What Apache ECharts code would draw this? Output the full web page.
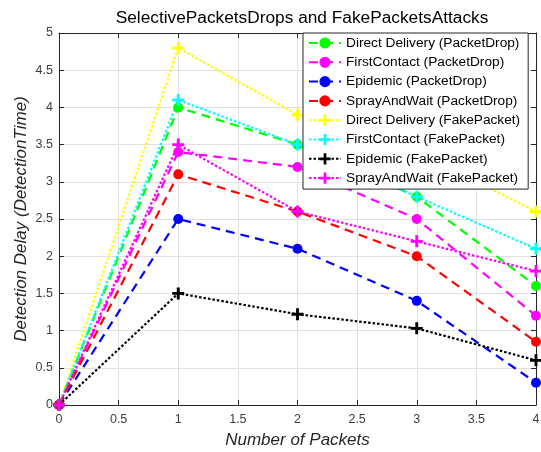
<!DOCTYPE html>
<html>
<head>
<meta charset="utf-8">
<script src="https://cdn.jsdelivr.net/npm/echarts@6/dist/echarts.min.js"></script>
<style>
  html, body { margin: 0; padding: 0; background: #fff; }
  #chart { width: 541px; height: 452px; }
</style>
</head>
<body>
<div id="chart"></div>
<script>
// Number of packets on the x axis
const packets = [0, 1, 2, 3, 4];

// Detection delay under selective packet drops
const directDeliveryDrop = [0, 4.0, 3.5, 2.8, 1.6];
const firstContactDrop   = [0, 3.4, 3.2, 2.5, 1.2];
const epidemicDrop       = [0, 2.5, 2.1, 1.4, 0.3];
const sprayAndWaitDrop   = [0, 3.1, 2.6, 2.0, 0.85];

// Detection delay under fake packet attacks
const directDeliveryFake = [0, 4.8, 3.9, 3.4, 2.6];
const firstContactFake   = [0, 4.1, 3.5, 2.8, 2.1];
const epidemicFake       = [0, 1.5, 1.22, 1.03, 0.6];
const sprayAndWaitFake   = [0, 3.5, 2.6, 2.2, 1.8];

const xTicks = [0, 0.5, 1, 1.5, 2, 2.5, 3, 3.5, 4];
const yTicks = [0, 0.5, 1, 1.5, 2, 2.5, 3, 3.5, 4, 4.5, 5];

const FONT = '"Liberation Sans", Arial, sans-serif';
const PLUS = 'path://M3.8,0H6.2V3.8H10V6.2H6.2V10H3.8V6.2H0V3.8H3.8Z';

function pts(vals) { return packets.map((x, i) => [x, vals[i]]); }

function makeSeries(name, vals, color, kind) {
  const dashed = kind === 'drop';
  return {
    name: name,
    type: 'line',
    data: pts(vals),
    symbol: dashed ? 'circle' : PLUS,
    symbolSize: dashed ? 10 : 12,
    showAllSymbol: true,
    animation: false,
    itemStyle: { color: color, borderWidth: 0 },
    lineStyle: { color: color, width: 2.2, type: dashed ? [9, 6] : [2.5, 2] },
    emphasis: { disabled: true }
  };
}

const seriesList = [
  makeSeries('Direct Delivery (PacketDrop)', directDeliveryDrop, '#00ff00', 'drop'),
  makeSeries('FirstContact (PacketDrop)', firstContactDrop, '#ff00ff', 'drop'),
  makeSeries('Epidemic (PacketDrop)', epidemicDrop, '#0000ff', 'drop'),
  makeSeries('SprayAndWait (PacketDrop)', sprayAndWaitDrop, '#ff0000', 'drop'),
  makeSeries('Direct Delivery (FakePacket)', directDeliveryFake, '#ffff00', 'fake'),
  makeSeries('FirstContact (FakePacket)', firstContactFake, '#00ffff', 'fake'),
  makeSeries('Epidemic (FakePacket)', epidemicFake, '#000000', 'fake'),
  makeSeries('SprayAndWait (FakePacket)', sprayAndWaitFake, '#ff00ff', 'fake')
];

const axisColor = '#262626';
const tickLabel = { color: '#404040', fontFamily: FONT, fontSize: 12.5, margin: 8 };

const chart = echarts.init(document.getElementById('chart'), null, { renderer: 'canvas' });
chart.setOption({
  backgroundColor: '#ffffff',
  animation: false,
  title: {
    text: 'SelectivePacketsDrops and FakePacketsAttacks',
    left: 297, top: 5, textAlign: 'center',
    textStyle: { fontFamily: FONT, fontSize: 17.3, fontWeight: 'normal', color: '#000' }
  },
  grid: { left: 59, right: 5, top: 33, bottom: 47, containLabel: false, outerBoundsMode: 'none' },
  legend: {
    orient: 'vertical',
    left: 303, top: 33,
    backgroundColor: '#ffffff',
    borderColor: '#262626', borderWidth: 1, borderRadius: 0,
    padding: [3, 8, 4, 5],
    itemGap: 5.3, itemWidth: 32, itemHeight: 14,
    textStyle: { fontFamily: FONT, fontSize: 13.7, color: '#000' },
    data: seriesList.map(s => s.name)
  },
  xAxis: [{
    type: 'value', min: xTicks[0], max: xTicks[xTicks.length - 1], interval: 0.5,
    name: 'Number of Packets', nameLocation: 'middle', nameGap: 27, nameMoveOverlap: false,
    nameTextStyle: { fontFamily: FONT, fontSize: 17, fontStyle: 'italic', color: axisColor },
    axisLine: { show: true, lineStyle: { color: axisColor, width: 1 } },
    axisTick: { show: true, inside: true, length: 5, lineStyle: { color: axisColor } },
    axisLabel: Object.assign({ formatter: v => String(v) }, tickLabel),
    splitLine: { show: true, lineStyle: { color: '#e0e0e0', width: 1 } }
  }, {
    type: 'value', position: 'top', min: 0, max: 4, interval: 0.5,
    axisLine: { show: true, onZero: false, lineStyle: { color: axisColor, width: 1 } },
    axisTick: { show: true, inside: true, length: 5, lineStyle: { color: axisColor } },
    axisLabel: { show: false }, splitLine: { show: false }
  }],
  yAxis: [{
    type: 'value', min: yTicks[0], max: yTicks[yTicks.length - 1], interval: 0.5,
    name: 'Detection Delay (DetectionTime)', nameLocation: 'middle', nameGap: 29,
    nameMoveOverlap: false, nameRotate: 90,
    nameTextStyle: { fontFamily: FONT, fontSize: 17, fontStyle: 'italic', color: axisColor },
    axisLine: { show: true, lineStyle: { color: axisColor, width: 1 } },
    axisTick: { show: true, inside: true, length: 5, lineStyle: { color: axisColor } },
    axisLabel: Object.assign({ formatter: v => String(v) }, tickLabel, { margin: 6 }),
    splitLine: { show: true, lineStyle: { color: '#e0e0e0', width: 1 } }
  }, {
    type: 'value', position: 'right', min: 0, max: 5, interval: 0.5,
    axisLine: { show: true, onZero: false, lineStyle: { color: axisColor, width: 1 } },
    axisTick: { show: true, inside: true, length: 5, lineStyle: { color: axisColor } },
    axisLabel: { show: false }, splitLine: { show: false }
  }],
  series: seriesList
});
</script>
</body>
</html>
